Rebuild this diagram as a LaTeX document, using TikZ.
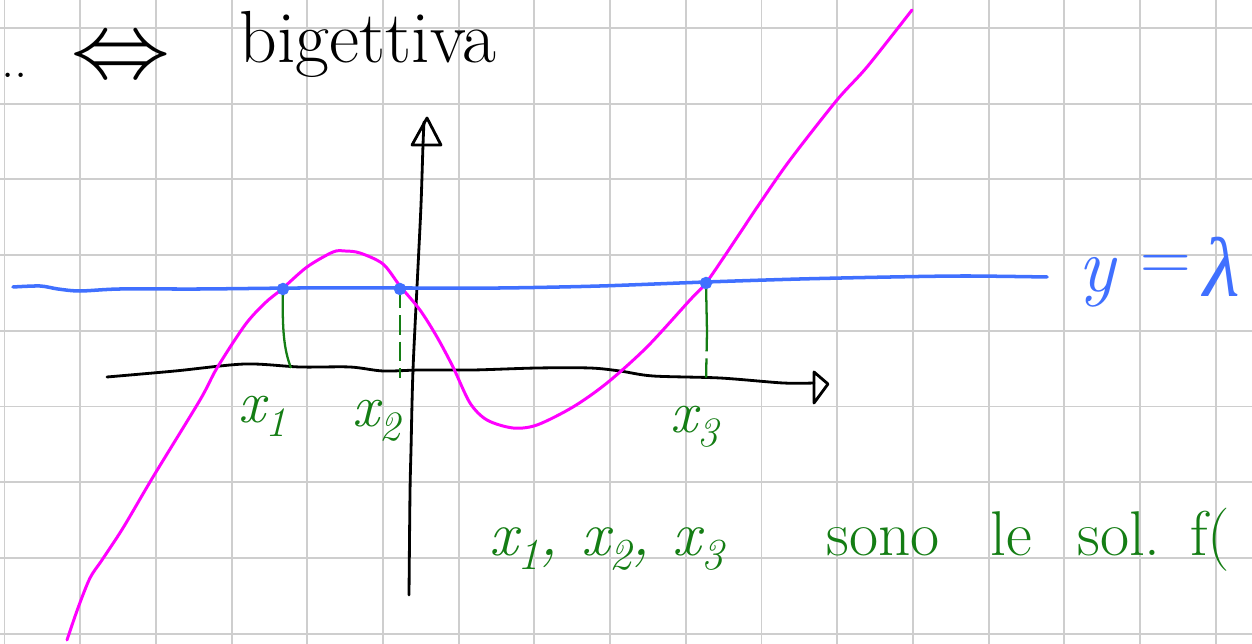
\documentclass[tikz,border=0pt]{standalone}
\usepackage{fontspec}
\newfontfamily\symf{Latin Modern Math}
\newfontfamily\grk{Liberation Serif}
\newcommand{\mysub}[1]{\raisebox{-0.22em}{\scalebox{0.7}{#1}}}
\definecolor{gridgray}{RGB}{206,206,206}
\definecolor{penblue}{RGB}{64,112,255}
\definecolor{pengreen}{RGB}{20,125,20}
\definecolor{penmag}{RGB}{255,0,255}
\begin{document}
\begin{tikzpicture}[x=0.02cm,y=-0.02cm,
  gridline/.style={draw=gridgray,line width=1.1pt},
  axisline/.style={draw=black,line width=1.6pt,line join=round,line cap=round},
  curveline/.style={draw=penmag,line width=1.7pt,line cap=round},
  levelline/.style={draw=penblue,line width=2pt,line cap=round},
  dropline/.style={draw=pengreen,line width=1.3pt},
  dropdash/.style={draw=pengreen,line width=1.3pt,dash pattern=on 11pt off 4pt},
  pendot/.style={fill=penblue,draw=penblue,line width=0.8pt},
  blacktxt/.style={inner sep=0pt,text=black},
  greentxt/.style={inner sep=0pt,text=pengreen},
  bluetxt/.style={inner sep=0pt,text=penblue}]
\useasboundingbox (0,0) rectangle (1252,644);
\fill[white] (0,0) rectangle (1252,644);
\clip (0,0) rectangle (1252,644);
% grid
\foreach \k in {0,...,16} \draw[gridline] ({4.5+75.7*\k},0) -- ({4.5+75.7*\k},644);
\foreach \k in {0,...,8} \draw[gridline] (0,{28+75.7*\k}) -- (1252,{28+75.7*\k});
% top text
\node[blacktxt,anchor=base west] (dots) at (1,78) {\fontsize{30}{34}\selectfont ..};
\node[blacktxt,anchor=base] (iff) at (121,79) {\symf\fontsize{55}{58}\selectfont ⇔};
\node[blacktxt,anchor=base west] (bij) at (239,63) {\fontsize{42}{48}\selectfont bigettiva};
% axes
\draw[axisline] plot[smooth] coordinates {(107,377) (175,371) (245,364) (300,367) (350,367) (383,371) (420,370) (473,370) (537,368) (590,368) (620,371) (653,376) (720,378) (783,383) (814,383)};
\coordinate (xtip) at (828,384);
\draw[axisline] (814,372) -- (xtip) -- (814,403) -- cycle;
\draw[axisline] plot[smooth] coordinates {(409,595) (410,493) (411,450) (413,370) (418,267) (421,205) (423,145) (424,122)};
\coordinate (ytip) at (427,118);
\draw[axisline] (412,145) -- (ytip) -- (441,145) -- cycle;
% level line y = lambda
\draw[levelline] plot[smooth] coordinates {(13,287) (40,286) (58,289) (80,291) (120,289) (200,289) (300,288) (400,288) (500,288) (600,286) (706,282) (800,279) (891,277) (966,276) (1047,277)};
% function graph
\draw[curveline] plot[smooth] coordinates {(67,640) (78,608) (90,578) (102,560) (123,528) (153,477) (200,400) (217,368) (245,325) (265,303) (282,289) (307,267) (333,252) (345,251) (360,253) (383,264) (400,286) (420,310) (437,337) (453,367) (470,403) (487,420) (513,428) (537,425) (573,407) (607,383) (647,347) (690,300) (706,283) (730,248) (760,203) (790,160) (837,100) (867,67) (912,10)};
% intersection points
\coordinate (p1) at (283,289);
\coordinate (p2) at (400,289);
\coordinate (p3) at (706,283);
\coordinate (f1) at (291,368);
\coordinate (f2) at (400,378);
\coordinate (m3) at (707,332);
\coordinate (f3) at (706,382);
\draw[dropline] (p1) .. controls (282,330) and (284,350) .. (f1);
\draw[dropdash] (p2) -- (f2);
\draw[dropline] (p3) -- (m3);
\draw[dropdash] (m3) -- (f3);
\fill[pendot] (p1) circle (5.5);
\fill[pendot] (p2) circle (5.5);
\fill[pendot] (p3) circle (5.5);
% labels
\node[greentxt,anchor=base west] (lx1) at (238,423) {\fontsize{34}{38}\selectfont\itshape x\mysub{1}};
\node[greentxt,anchor=base west] (lx2) at (352,427) {\fontsize{34}{38}\selectfont\itshape x\mysub{2}};
\node[greentxt,anchor=base west] (lx3) at (670,433) {\fontsize{34}{38}\selectfont\itshape x\mysub{3}};
\node[bluetxt,anchor=base west] (ly) at (1078,292) {\fontsize{44}{48}\selectfont\itshape y};
\node[bluetxt] (leq) at (1166,268) {\fontsize{40}{44}\selectfont =};
\node[bluetxt,anchor=base west] (llam) at (1203,297) {\grk\fontsize{48}{52}\selectfont\itshape λ};
% bottom sentence
\node[greentxt,anchor=base west] (sols) at (489,556) {\fontsize{36}{40}\selectfont\itshape x\mysub{1}, x\mysub{2}, x\mysub{3}};
\node[greentxt,anchor=base west] (w1) at (826,556) {\fontsize{36}{40}\selectfont sono};
\node[greentxt,anchor=base west] (w2) at (990,556) {\fontsize{36}{40}\selectfont le};
\node[greentxt,anchor=base west] (w3) at (1077,556) {\fontsize{36}{40}\selectfont sol.};
\node[greentxt,anchor=base west] (w4) at (1190,556) {\fontsize{36}{40}\selectfont f(};
\end{tikzpicture}
\end{document}
